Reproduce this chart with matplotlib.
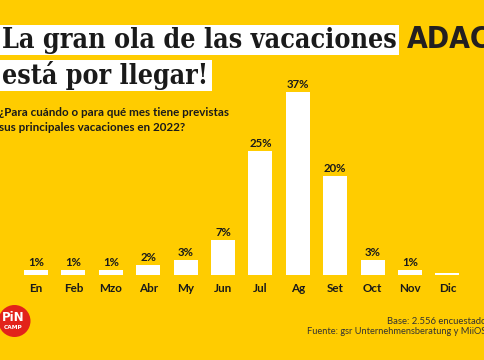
import matplotlib
matplotlib.use("Agg")
import matplotlib.pyplot as plt
from matplotlib.patches import Rectangle, Circle

# data
months = ["En", "Feb", "Mzo", "Abr", "My", "Jun", "Jul", "Ag", "Set", "Oct", "Nov", "Dic"]
shares = [1, 1, 1, 2, 3, 7, 25, 37, 20, 3, 1, 0.35]
labels = ["1%", "1%", "1%", "2%", "3%", "7%", "25%", "37%", "20%", "3%", "1%", ""]

title_lines = ["La gran ola de las vacaciones", "está por llegar!"]
question = "¿Para cuándo o para qué mes tiene previstas\nsus principales vacaciones en 2022?"
base_txt = "Base: 2.556 encuestados"
source_txt = "Fuente: gsr Unternehmensberatung y MiiOS"

YELLOW = "#FFCC00"
DARK = "#1a1a1a"
W, H = 485, 360

fig = plt.figure(figsize=(W / 100, H / 100), dpi=100, facecolor=YELLOW)

# background layer in pixel coords (y down)
bg = fig.add_axes([0, 0, 1, 1])
bg.set_xlim(0, W)
bg.set_ylim(H, 0)
bg.axis("off")
bg.set_facecolor(YELLOW)

# title boxes
bg.add_patch(Rectangle((0, 25), 399, 30, color="white", lw=0))
bg.add_patch(Rectangle((0, 60), 212, 30.5, color="white", lw=0))

renderer = fig.canvas.get_renderer()


def fit_text(x, y, s, width, size, **kw):
    t = bg.text(x, y, s, fontsize=size, **kw)
    bb = t.get_window_extent(renderer=renderer)
    t.set_fontsize(size * width / bb.width)
    return t


fit_text(2, 41, title_lines[0], 393, 18, family="DejaVu Serif", stretch="condensed",
         weight="bold", color=DARK, va="center", ha="left")
fit_text(2, 76, title_lines[1], 206, 18, family="DejaVu Serif", stretch="condensed",
         weight="bold", color=DARK, va="center", ha="left")

# ADAC wordmark (runs off the right edge like in the original)
fit_text(407, 40, "ADAC", 84, 24, family="DejaVu Sans", stretch="condensed",
         weight="bold", color="#231f20", va="center", ha="left")

# question
bg.text(-1, 120, question, fontsize=8.4, family="Lato", weight="bold", color=DARK,
        va="center", ha="left", linespacing=1.35)

# footer
bg.text(387, 321, base_txt, fontsize=6.8, family="Lato", color="#333333", va="center")
bg.text(307, 332, source_txt, fontsize=6.7, family="Lato", color="#333333", va="center")

# PiN CAMP logo
bg.add_patch(Circle((14.5, 321), 16, color="#E2231A", lw=0))
bg.text(13.5, 317.5, "PiN", fontsize=8.5, family="DejaVu Sans", weight="bold",
        color="white", ha="center", va="center")
bg.text(13.5, 327.5, "CAMP", fontsize=4.2, family="DejaVu Sans", weight="bold",
        color="white", ha="center", va="center")

# bar chart
step = 37.4
x0 = 36 - step / 2
ax = fig.add_axes([x0 / W, 85 / H, 12 * step / W, 198 / H])
ax.set_facecolor("none")
xs = range(len(months))
ax.bar(xs, shares, width=0.64, color="white", lw=0)
ax.set_xlim(-0.5, 11.5)
ax.set_ylim(0, 40)
for s in ax.spines.values():
    s.set_visible(False)
ax.set_yticks([])
ax.set_xticks(list(xs))
ax.set_xticklabels(months, fontsize=8.4, family="Lato", weight="bold", color=DARK)
ax.tick_params(axis="x", length=0, pad=6)
for i, (v, lab) in enumerate(zip(shares, labels)):
    ax.annotate(lab, (i, v), xytext=(0, 1.5), textcoords="offset points",
                ha="center", va="bottom", fontsize=8.2, family="Lato",
                weight="bold", color=DARK)

fig.savefig("out.png", dpi=100, facecolor=YELLOW)
